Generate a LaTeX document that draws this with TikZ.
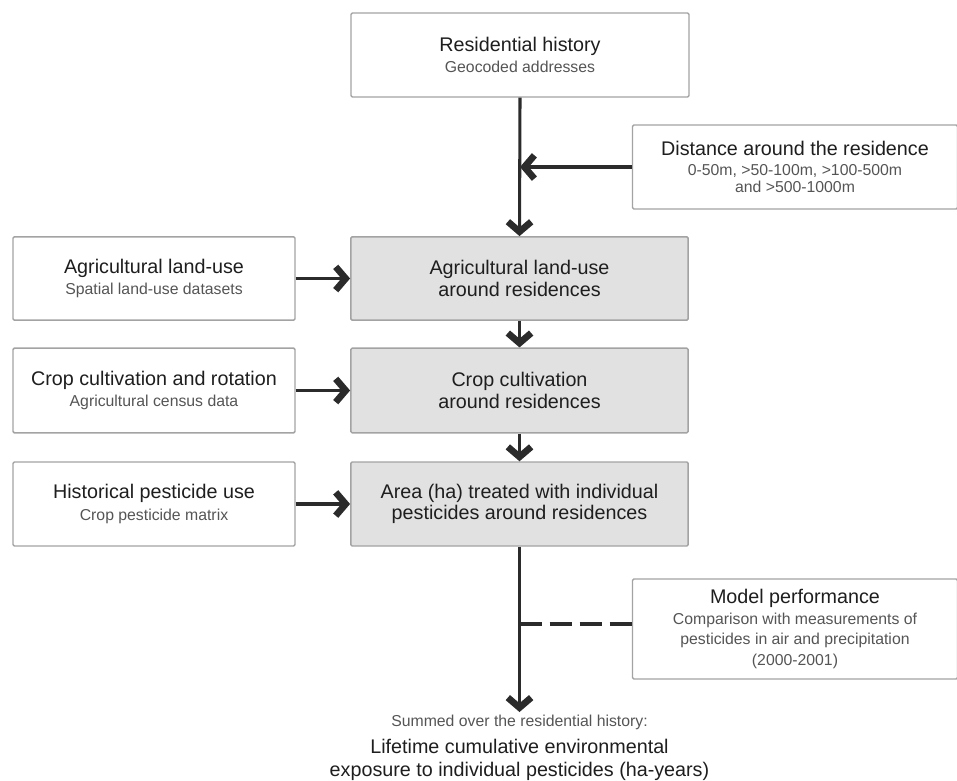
\documentclass[tikz,border=0pt]{standalone}
\usepackage{fontspec}
\setmainfont{Liberation Sans}
\usetikzlibrary{arrows.meta}
\definecolor{linec}{HTML}{2B2B2B}
\definecolor{boxline}{HTML}{A3A3A3}
\definecolor{boxfill}{HTML}{E1E1E1}
\definecolor{subc}{HTML}{555555}
\definecolor{titc}{HTML}{1E1E1E}
\newcommand{\tfont}{\fontsize{14.8}{16}\selectfont\color{titc}}
\newcommand{\sfont}{\fontsize{11.85}{16}\selectfont\color{subc}}
\tikzset{
  box/.style={draw=boxline, line width=1.1pt, fill=white, rounded corners=1pt, align=center, inner sep=2pt, font=\fontsize{14.8}{16}\selectfont},
  graybox/.style={box, fill=boxfill},
  arr/.style={draw=linec, line width=2.3pt, -{Straight Barb[length=7.5pt,width=17.5pt,line width=5pt]}},
  dashline/.style={draw=linec, line width=2.3pt, dash pattern=on 17pt off 5.5pt},
}
\begin{document}
\begin{tikzpicture}[x=0.75pt,y=-0.75pt]
\useasboundingbox (0,0) rectangle (957,781);
% main column
\node[box, minimum width=253.5pt, minimum height=63pt] (res) at (520,55)
  {{\tfont Residential history}\\{\sfont Geocoded addresses}};
\node[graybox, minimum width=253pt, minimum height=62.5pt] (g1) at (519.5,278.5)
  {{\tfont Agricultural land-use}\\{\tfont around residences}};
\node[graybox, minimum width=253pt, minimum height=63.5pt] (g2) at (519.5,390.5)
  {{\tfont Crop cultivation}\\{\tfont around residences}};
\node[graybox, minimum width=253pt, minimum height=63pt] (g3) at (519.5,504)
  {{\tfont Area (ha) treated with individual}\\{\tfont pesticides around residences}};
% left inputs
\node[box, minimum width=211.5pt, minimum height=62.5pt] (l1) at (154,278.5)
  {{\tfont Agricultural land-use}\\{\sfont Spatial land-use datasets}};
\node[box, minimum width=211.5pt, minimum height=63.5pt] (l2) at (154,390.5)
  {{\tfont Crop cultivation and rotation}\\{\sfont Agricultural census data}};
\node[box, minimum width=211.5pt, minimum height=63pt] (l3) at (154,504)
  {{\tfont Historical pesticide use}\\{\sfont Crop pesticide matrix}};
% right boxes
\node[box, minimum width=243.75pt, minimum height=63pt] (dist) at (795,167)
  {{\tfont Distance around the residence}\\[-1pt]{\sfont 0-50m, >50-100m, >100-500m}\\[-3pt]{\sfont and >500-1000m}};
\node[box, minimum width=243.75pt, minimum height=75pt] (model) at (795,629)
  {{\tfont Model performance}\\[-0.5pt]{\sfont Comparison with measurements of}\\[-0.5pt]{\sfont pesticides in air and precipitation}\\[-0.5pt]{\sfont (2000-2001)}};
% bottom text
\node[inner sep=0pt, font=\sfont] (summed) at (519.5,722) {Summed over the residential history:};
\node[inner sep=0pt, align=center, font=\fontsize{14.8}{17.3}\selectfont\color{titc}] (life) at (519.5,760)
  {Lifetime cumulative environmental\\exposure to individual pesticides (ha-years)};
\coordinate (tip) at (519.5,712);
\coordinate (dashy) at (0,624);
% connectors
\draw[arr] (res.south) -- (g1.north);
\draw[arr] (dist.west) -- (dist.west -| res.south);
\draw[arr] (g1.south) -- (g2.north);
\draw[arr] (g2.south) -- (g3.north);
\draw[arr] (g3.south) -- (tip);
\draw[arr] (l1.east) -- (g1.west);
\draw[arr] (l2.east) -- (g2.west);
\draw[arr] (l3.east) -- (g3.west);
\draw[dashline] (g3.south |- dashy) -- (model.west |- dashy);
\end{tikzpicture}
\end{document}
